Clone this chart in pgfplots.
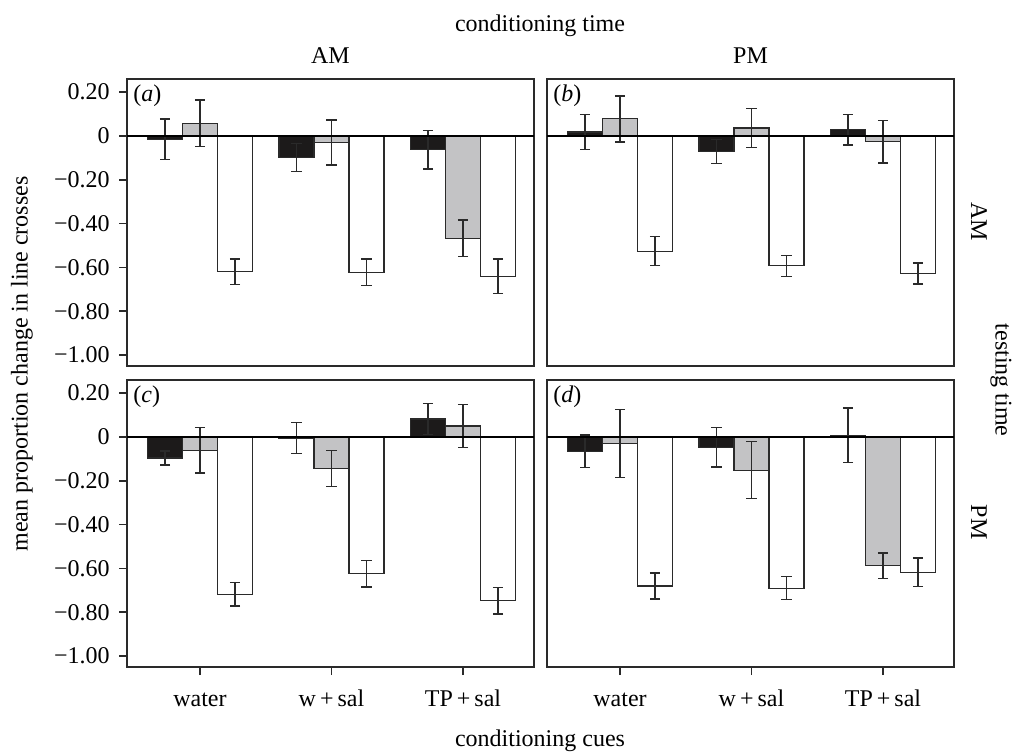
\documentclass[12pt,border=0pt]{standalone}
\usepackage{fontspec}
\setmainfont{Liberation Serif}
\usepackage{pgfplots}
\usepackage{pgfplotstable}
\pgfplotsset{compat=1.18}
\definecolor{barblack}{HTML}{1C1A1A}
\definecolor{bargray}{HTML}{C3C3C5}
\definecolor{edge}{HTML}{2A2A2A}

% columns: x, black, err, gray, err, white, err
\pgfplotstableread{
x b be g ge w we
0 -0.015 0.092 0.058 0.106 -0.620 0.058
1 -0.098 0.064 -0.030 0.102 -0.622 0.060
2 -0.063 0.088 -0.467 0.083 -0.640 0.078
}\dataA
\pgfplotstableread{
x b be g ge w we
0 0.018 0.079 0.078 0.105 -0.526 0.066
1 -0.072 0.055 0.036 0.088 -0.593 0.048
2 0.028 0.070 -0.026 0.097 -0.627 0.048
}\dataB
\pgfplotstableread{
x b be g ge w we
0 -0.096 0.032 -0.060 0.104 -0.718 0.053
1 -0.005 0.070 -0.143 0.082 -0.624 0.060
2 0.082 0.070 0.050 0.098 -0.747 0.061
}\dataC
\pgfplotstableread{
x b be g ge w we
0 -0.065 0.074 -0.030 0.156 -0.680 0.059
1 -0.047 0.091 -0.152 0.130 -0.690 0.052
2 0.008 0.125 -0.588 0.058 -0.618 0.065
}\dataD

\pgfplotsset{
  panel/.style={scale only axis, width=203.5pt, height=143.5pt,
    xmin=-0.555, xmax=2.54, ymin=-1.05, ymax=0.26,
    axis line style={edge, line width=0.75pt},
    tick style={edge, line width=0.75pt},
    major tick length=4pt, tick align=outside,
    anchor=north west, font=\normalsize,
    xtick pos=bottom, ytick pos=left},
  leftp/.style={ytick={-1,-0.8,-0.6,-0.4,-0.2,0,0.2},
    yticklabels={−1.00,−0.80,−0.60,−0.40,−0.20,0,0.20},
    yticklabel style={inner sep=0pt, xshift=-4.5pt}},
  rightp/.style={ytick=\empty},
  topp/.style={xtick=\empty},
  botp/.style={xtick={0,1,2}, xticklabels={water, w\,+\,sal, TP\,+\,sal},
    xticklabel style={anchor=north, text height=8.5pt, text depth=2pt, inner sep=0pt, yshift=-7pt}},
  errs/.style={error bars/.cd, y dir=both, y explicit,
    error bar style={edge, line width=0.7pt},
    error mark options={rotate=90, mark size=2.6pt, edge, line width=0.7pt}},
  bk/.style={ybar, bar width=0.266, bar shift=0, fill=barblack, draw=edge, line width=0.6pt, errs},
  gr/.style={ybar, bar width=0.266, bar shift=0, fill=bargray, draw=edge, line width=0.6pt, errs},
  wh/.style={ybar, bar width=0.266, bar shift=0, fill=white, draw=edge, line width=0.6pt, errs},
}

\newcommand{\panelplots}[2]{%
  \addplot[bk] table[x expr=\thisrow{x}-0.266, y=b, y error=be] {#1};
  \addplot[gr] table[x=x, y=g, y error=ge] {#1};
  \addplot[wh] table[x expr=\thisrow{x}+0.266, y=w, y error=we] {#1};
  \addplot[black, line width=0.6pt, forget plot] coordinates {(-0.555,0) (2.54,0)};
  \node[anchor=north west, inner sep=0pt, xshift=3pt, yshift=-2.5pt] at (rel axis cs:0,1) {(\textit{#2})};
}

\begin{document}
\begin{tikzpicture}
\useasboundingbox (0,0) rectangle (508pt,-376.5pt);

\begin{axis}[panel, leftp, topp, at={(63.5pt,-39.5pt)}]
\panelplots{\dataA}{a}
\end{axis}
\begin{axis}[panel, rightp, topp, at={(273.5pt,-39.5pt)}]
\panelplots{\dataB}{b}
\end{axis}
\begin{axis}[panel, leftp, botp, at={(63.5pt,-190pt)}]
\panelplots{\dataC}{c}
\end{axis}
\begin{axis}[panel, rightp, botp, at={(273.5pt,-190pt)}]
\panelplots{\dataD}{d}
\end{axis}

\node[anchor=base] at (270pt,-16pt) {conditioning time};
\node[anchor=base] at (165.25pt,-32pt) {AM};
\node[anchor=base] at (375.25pt,-32pt) {PM};
\node[rotate=-90] at (489.5pt,-111pt) {AM};
\node[rotate=-90] at (489.5pt,-261pt) {PM};
\node[rotate=-90, inner sep=0pt] at (500.5pt,-190pt) {testing time};
\node[rotate=90] at (11pt,-182pt) {mean proportion change in line crosses};
\node[anchor=base] at (270pt,-373pt) {conditioning cues};
\end{tikzpicture}
\end{document}
